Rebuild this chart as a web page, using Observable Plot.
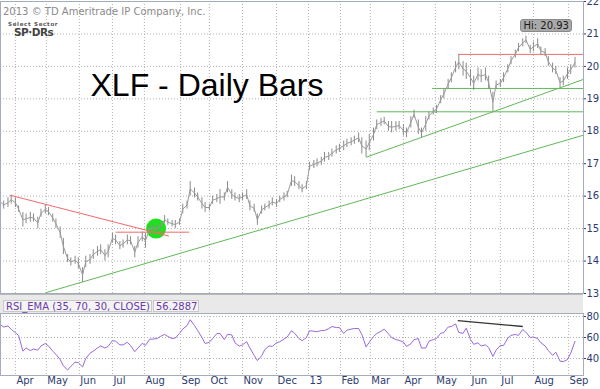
<!DOCTYPE html>
<html><head><meta charset="utf-8">
<script src="https://cdn.jsdelivr.net/npm/d3@7"></script>
<script src="https://cdn.jsdelivr.net/npm/@observablehq/plot@0.6"></script>
<style>
html,body{margin:0;padding:0;background:#fff;}
#wrap{position:relative;width:600px;height:389px;overflow:hidden;background:#fff;font-family:"DejaVu Sans",sans-serif;}
.abs{position:absolute;}
.lbl{position:absolute;top:300px;height:12px;line-height:12px;font-size:10px;color:#6a3aa8;background:#f4f4f4;border:1px solid #c9c9c9;box-sizing:border-box;padding:0 2px;white-space:nowrap;}
</style></head><body>
<div id="wrap">
  <div id="main" class="abs" style="left:0;top:0"></div>
  <div class="abs" style="left:0;top:294px;width:583px;height:18px;background:#e9e9e9;border-top:1px solid #b9b9b9;"></div>
  <div class="lbl" style="left:3px;width:149px;">RSI_EMA (35, 70, 30, CLOSE)</div>
  <div class="lbl" style="left:153px;width:46px;">56.2887</div>
  <div id="rsi" class="abs" style="left:0;top:312px"></div>
  <div class="abs" style="left:3px;top:6px;font-size:10px;color:#8a8a8a;white-space:nowrap;">2013 © TD Ameritrade IP Company, Inc.</div>
  <div class="abs" style="left:8px;top:21px;height:6px;font-size:5.5px;line-height:6px;font-weight:bold;color:#555;letter-spacing:0.7px;white-space:nowrap;">Select Sector</div>
  <div class="abs" style="left:14px;top:27px;height:10px;font-size:10.5px;line-height:10px;font-weight:bold;color:#444;letter-spacing:-0.5px;white-space:nowrap;">SP·DRs</div>
</div>
<script>
const titleText = "XLF - Daily Bars";
const weekStarts = ["2012-03-19","2012-03-26","2012-04-02","2012-04-09","2012-04-16","2012-04-23","2012-04-30","2012-05-07","2012-05-14","2012-05-21","2012-05-28","2012-06-04","2012-06-11","2012-06-18","2012-06-25","2012-07-02","2012-07-09","2012-07-16","2012-07-23","2012-07-30","2012-08-06","2012-08-13","2012-08-20","2012-08-27","2012-09-03","2012-09-10","2012-09-17","2012-09-24","2012-10-01","2012-10-08","2012-10-15","2012-10-22","2012-10-29","2012-11-05","2012-11-12","2012-11-19","2012-11-26","2012-12-03","2012-12-10","2012-12-17","2012-12-24","2012-12-31","2013-01-07","2013-01-14","2013-01-21","2013-01-28","2013-02-04","2013-02-11","2013-02-18","2013-02-25","2013-03-04","2013-03-11","2013-03-18","2013-03-25","2013-04-01","2013-04-08","2013-04-15","2013-04-22","2013-04-29","2013-05-06","2013-05-13","2013-05-20","2013-05-27","2013-06-03","2013-06-10","2013-06-17","2013-06-24","2013-07-01","2013-07-08","2013-07-15","2013-07-22","2013-07-29","2013-08-05","2013-08-12","2013-08-19","2013-08-26","2013-09-02","2013-09-09"];
// two half-week bars per week (Mon-Wed, Thu-Fri)
const barLows = [15.70,15.60, 15.65,15.75, 15.65,15.50, 15.05,15.15, 15.20,15.20, 15.00,15.35, 15.45,15.40, 15.20,15.00, 14.70,14.20, 13.95,13.85,
 13.90,13.75, 13.35,13.80, 13.90,14.05, 14.15,14.20, 14.00,14.10, 14.55,14.50, 14.35,14.40, 14.50,14.50, 14.10,14.40, 14.60,14.40,
 14.90,14.95, 14.90,15.00, 15.15,15.10, 15.05,15.00, 15.10,15.45, 15.60,16.00, 15.95,15.85, 15.60,15.50, 15.55,15.75, 15.80,15.75,
 15.85,16.10, 15.90,15.85, 15.80,15.85, 15.90,15.55, 15.50,15.10, 15.45,15.55, 15.60,15.70, 15.65,15.80, 15.85,15.95, 16.30,16.30,
 16.20,16.10, 16.20,16.80, 16.85,16.90, 16.95,17.05, 17.10,17.20, 17.30,17.35, 17.40,17.50, 17.55,17.60, 17.65,17.30, 17.20,17.40,
 17.70,18.05, 18.15,18.20, 18.00,17.95, 18.00,18.05, 17.85,17.80, 18.10,18.40, 17.90,17.80, 18.00,18.35, 18.50,18.55, 18.85,19.00,
 19.30,19.50, 19.80,19.90, 19.70,19.60, 19.40,19.26, 19.55,19.50, 19.55,19.30, 18.60,19.30, 19.35,19.50, 19.80,20.05, 20.25,20.45,
 20.60,20.70, 20.40,20.45, 20.55,20.35, 20.30,20.00, 19.80,19.75, 19.35,19.40, 19.60,19.75, 19.95];
const barHighs = [15.95,15.85, 15.95,16.03, 15.95,15.70, 15.50,15.45, 15.50,15.45, 15.35,15.60, 15.72,15.65, 15.45,15.30, 15.05,14.70, 14.20,14.10,
 14.15,14.10, 13.80,14.15, 14.20,14.35, 14.45,14.50, 14.35,14.50, 14.85,14.80, 14.60,14.65, 14.80,14.75, 14.45,14.75, 14.90,14.85,
 15.10,15.10, 15.10,15.15, 15.40,15.30, 15.25,15.25, 15.30,15.75, 15.85,16.45, 16.25,16.10, 15.95,15.80, 15.75,16.00, 16.05,16.20,
 16.10,16.45, 16.20,16.10, 16.05,16.10, 16.20,15.85, 15.75,15.45, 15.70,15.75, 15.85,15.95, 15.90,16.00, 16.10,16.15, 16.65,16.60,
 16.45,16.35, 16.45,17.05, 17.10,17.15, 17.20,17.35, 17.35,17.45, 17.55,17.60, 17.70,17.75, 17.80,17.85, 17.95,17.80, 17.70,17.90,
 18.10,18.35, 18.40,18.43, 18.30,18.30, 18.30,18.30, 18.20,18.10, 18.45,18.65, 18.35,18.10, 18.45,18.60, 18.72,18.80, 19.10,19.30,
 19.60,19.80, 20.15,20.37, 20.15,20.10, 19.90,19.70, 19.95,19.90, 19.95,19.70, 19.20,19.55, 19.60,19.80, 20.05,20.30, 20.50,20.70,
 20.85,20.93, 20.65,20.75, 20.85,20.60, 20.55,20.30, 20.10,20.00, 19.65,19.70, 19.95,20.05, 20.28];
const rsiValues = [72,70, 71,68, 64.5,62, 47,50, 47.6,49, 48,52, 54.3,52, 47,44, 39,33, 29,32.5,
 36.5,36, 32,40, 45,47, 50,52, 50,51.5, 57,56.5, 53,53, 55.5,52.4, 46.5,50, 54.5,52.4,
 58.5,58.5, 59,61, 63,61, 59,59.5, 64,68, 71.4,77, 71.4,66.7, 60,54.3, 55.5,59, 63.8,63.8,
 58,63, 62.5,55, 51.8,53, 56,50, 43,38, 42.5,48.5, 52,51.5, 55,56, 58.5,60.5, 66.5,64,
 59,57, 60,66.5, 66,65.5, 66.7,66.7, 68.5,70.5, 69.5,69.5, 63.8,67, 68,68.6, 68.6,63, 51,55.5,
 61,63.8, 66,68, 63.5,60, 58,57.3, 55.7,51.5, 54,58, 59,50, 50,56.5, 58,59, 64,64.8,
 70,70.5, 73,64.8, 64,69, 58,53.5, 55,52, 53,50.5, 42,48, 52.4,52.4, 59.5,62, 63,62,
 67.6,65, 60,60.5, 59,55, 52,47.6, 43,46, 37.5,37, 39,45, 56.3];
const priceTicks = [13,14,15,16,17,18,19,20,21,22];
const rsiTicks = [40,60,80];
const monthStarts = ["2012-04-02","2012-05-01","2012-06-01","2012-07-02","2012-08-01","2012-09-04","2012-10-01","2012-11-01","2012-12-03","2013-01-02","2013-02-01","2013-03-01","2013-04-01","2013-05-01","2013-06-03","2013-07-01","2013-08-01","2013-09-03"];
const monthLabels = ["Apr","May","Jun","Jul","Aug","Sep","Oct","Nov","Dec","13","Feb","Mar","Apr","May","Jun","Jul","Aug","Sep"];
const redLines = [
  {x1:"2012-03-28", y1:16.03, x2:"2012-08-24", y2:14.77},
  {x1:"2012-07-05", y1:14.89, x2:"2012-09-12", y2:14.89},
  {x1:"2013-05-23", y1:20.37, x2:"2013-09-17", y2:20.37}
];
const greenLines = [
  {x1:"2012-04-30", y1:13.02, x2:"2013-09-17", y2:17.88},
  {x1:"2013-02-25", y1:17.20, x2:"2013-09-17", y2:19.60},
  {x1:"2013-03-07", y1:18.60, x2:"2013-09-17", y2:18.60},
  {x1:"2013-04-28", y1:19.32, x2:"2013-09-17", y2:19.32}
];
const highlight = [{date:"2012-08-12", value:15.0}];
const rsiDivergence = [{x1:"2013-05-22", y1:76.2, x2:"2013-07-22", y2:70.5}];
const hiPoint = {date:"2013-07-25", value:20.93, text:"Hi: 20.93"};
const xDomain = ["2012-03-19","2013-09-17"];

const D = s => new Date(s + "T00:00:00Z");
const bars = barLows.map((lo, i) => {
  const d = D(weekStarts[Math.floor(i / 2)]);
  d.setUTCDate(d.getUTCDate() + (i % 2) * 3);
  return {date: d, low: lo, high: barHighs[i], rsi: rsiValues[i]};
});
const months = monthStarts.map(D);
const toLink = a => a.map(o => ({...o, x1: D(o.x1), x2: D(o.x2)}));
const grid = {stroke: "#b3b3b3", strokeOpacity: 1, strokeDasharray: "1,2"};
const navy = "#2d3b6f";

const mainPlot = Plot.plot({
  width: 600, height: 295,
  marginLeft: 0, marginRight: 17, marginTop: 1, marginBottom: 2,
  style: {fontFamily: "DejaVu Sans", fontSize: "10px", background: "transparent", overflow: "visible"},
  x: {type: "utc", domain: xDomain.map(D), axis: null},
  y: {domain: [13, 22]},
  marks: [
    Plot.gridY(priceTicks, grid),
    Plot.gridX(months, grid),
    Plot.text([titleText], {frameAnchor: "top-left", dx: 90, dy: 94.5, lineAnchor: "bottom", textAnchor: "start", fontSize: 32, fontFamily: "Liberation Sans", fill: "#000"}),
    Plot.dot(highlight.map(d => ({...d, date: D(d.date)})), {x: "date", y: "value", r: 10, fill: "#1fe01f", stroke: "none"}),
    Plot.link(toLink(redLines), {x1: "x1", y1: "y1", x2: "x2", y2: "y2", stroke: "#f06a6a", strokeWidth: 1}),
    Plot.link(toLink(greenLines), {x1: "x1", y1: "y1", x2: "x2", y2: "y2", stroke: "#5fb858", strokeWidth: 1}),
    Plot.ruleX(bars, {x: "date", y1: "low", y2: "high", stroke: "#8a8a8a", strokeWidth: 1}),
    Plot.line(bars, {x: "date", y: d => (d.low + d.high) / 2, stroke: "#9a9a9a", strokeWidth: 1}),
    Plot.frame({stroke: "#a3abbd"}),
    Plot.axisY(priceTicks, {anchor: "right", tickSize: 2, tickPadding: 1, fontSize: 10, color: navy, label: null})
  ]
});
document.getElementById("main").appendChild(mainPlot);

const rsiPlot = Plot.plot({
  width: 600, height: 77,
  marginLeft: 0, marginRight: 17, marginTop: 1, marginBottom: 14,
  style: {fontFamily: "DejaVu Sans", fontSize: "10px", background: "transparent", overflow: "visible"},
  x: {type: "utc", domain: xDomain.map(D), axis: null},
  y: {domain: [23.8, 82.9]},
  marks: [
    Plot.gridY(rsiTicks, grid),
    Plot.gridX(months, grid),
    Plot.line(bars, {x: "date", y: "rsi", stroke: "#9a68dc", strokeWidth: 1}),
    Plot.link(toLink(rsiDivergence), {x1: "x1", y1: "y1", x2: "x2", y2: "y2", stroke: "#333", strokeWidth: 1.3}),
    Plot.frame({stroke: "#a3abbd"}),
    Plot.axisY(rsiTicks, {anchor: "right", tickSize: 2, tickPadding: 1, fontSize: 10, color: navy, label: null}),
    Plot.text(months, {x: d => d, text: (d, i) => monthLabels[i], frameAnchor: "bottom", dy: 8.5, dx: 1, textAnchor: "start", fill: navy, fontSize: 10})
  ]
});
document.getElementById("rsi").appendChild(rsiPlot);

// "Hi" callout positioned through the chart's own scales
const sx = mainPlot.scale("x"), sy = mainPlot.scale("y");
const hx = sx.apply(D(hiPoint.date)), hy = sy.apply(hiPoint.value);
const hi = document.createElement("div");
hi.className = "abs";
hi.textContent = hiPoint.text;
Object.assign(hi.style, {left: (hx - 5) + "px", top: (hy - 17) + "px", height: "13px", lineHeight: "11px", fontSize: "10px", color: "#1a1a1a", background: "#a9a9a9", border: "1px solid #8a8a8a", borderRadius: "3px", padding: "0 2px", boxSizing: "border-box", whiteSpace: "nowrap"});
document.getElementById("wrap").appendChild(hi);
</script>
</body></html>
